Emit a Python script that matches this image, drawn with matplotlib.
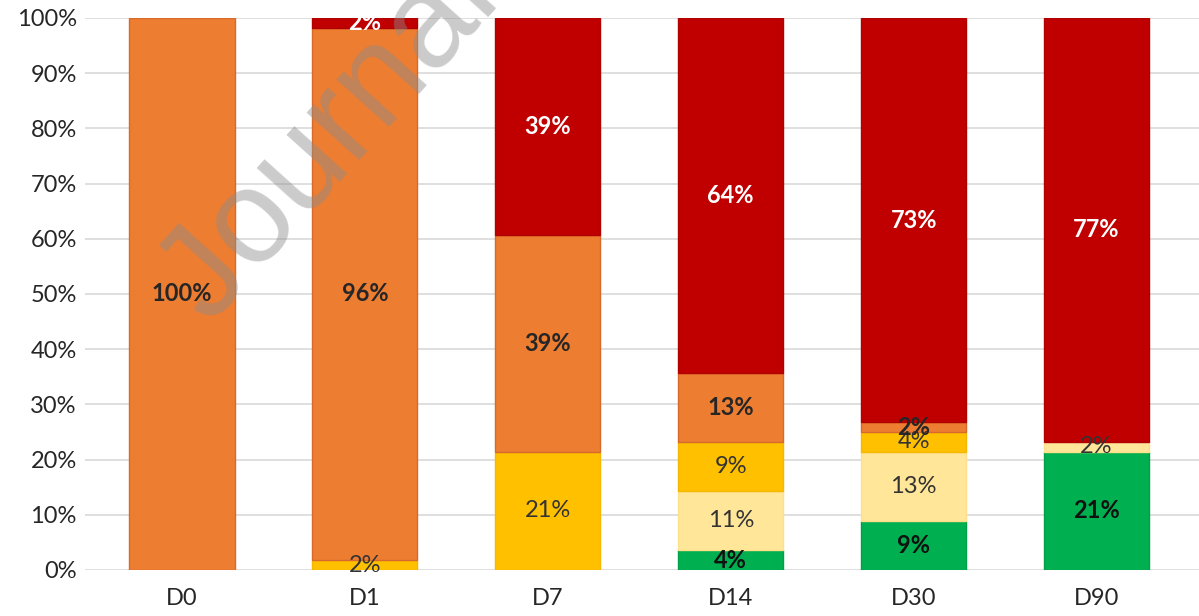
import matplotlib
matplotlib.use("Agg")
from matplotlib import pyplot as plt
import numpy as np

plt.rcParams['font.family'] = ['Lato', 'DejaVu Sans']

# share of patients per grade (percent), bottom to top
days = ["D0", "D1", "D7", "D14", "D30", "D90"]
green = [0, 0, 0, 3.6, 8.9, 21.4]
light_yellow = [0, 0, 0, 10.7, 12.5, 1.8]
gold = [0, 1.8, 21.4, 8.9, 3.6, 0]
orange = [100, 96.4, 39.3, 12.5, 1.8, 0]
red = [0, 1.8, 39.3, 64.3, 73.2, 76.8]

series = [green, light_yellow, gold, orange, red]
colors = ["#00b050", "#ffe699", "#ffc000", "#ed7d31", "#c00000"]
edges = ["#00a048", "#ffe08a", "#f5b800", "#d8692a", "#b00000"]
label_colors = ["#111111", "#333333", "#333333", "#262626", "white"]
label_weights = ["bold", "normal", "normal", "bold", "bold"]

fig = plt.figure(figsize=(11.99, 6.16), dpi=100)
ax = fig.add_axes([0.0709, 0.0747, 0.9291, 0.8961])

x = np.arange(len(days))
bottom = np.zeros(len(days))
for vals, c, ec, lc, lw in zip(series, colors, edges, label_colors, label_weights):
    vals = np.array(vals, dtype=float)
    lws = [1 if v > 0 else 0 for v in vals]
    ax.bar(x, vals, width=0.575, bottom=bottom, color=c, edgecolor=ec,
           linewidth=lws, zorder=2)
    for xi, v, b in zip(x, vals, bottom):
        if v > 0:
            ax.text(xi, b + v / 2, "%d%%" % int(v + 0.5), ha="center",
                    va="center", color=lc, fontweight=lw, fontsize=17, zorder=4)
    bottom += vals

ax.set_ylim(0, 100)
ax.set_xlim(-0.53, 5.56)
ax.set_yticks(np.arange(0, 101, 10))
ax.set_yticklabels(["%d%%" % v for v in range(0, 101, 10)])
ax.set_xticks(x)
ax.set_xticklabels(days)
ax.tick_params(axis="both", length=0, labelsize=17, colors="#262626")
ax.tick_params(axis="y", pad=6)
ax.tick_params(axis="x", pad=13)
ax.yaxis.grid(True, color="#d9d9d9", linewidth=1.2, zorder=0)
ax.set_axisbelow(True)
for s in ax.spines.values():
    s.set_visible(False)

# watermark
fig.text(0.115, 0.44, "Journal Pre-proof", rotation=48, fontsize=96,
         color="#8c8c8c", alpha=0.45, ha="left", va="bottom", zorder=10,
         family="Liberation Sans")

fig.savefig("out.png", dpi=100)
